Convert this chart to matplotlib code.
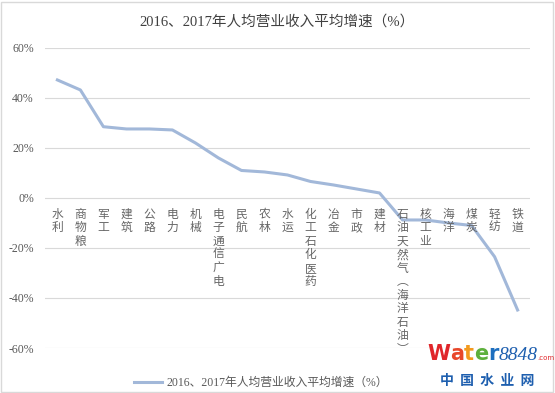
import matplotlib.pyplot as plt
from matplotlib.ticker import FuncFormatter
from matplotlib.patches import Rectangle

title = "2016、2017年人均营业收入平均增速（%）"
categories = ["水利", "商物粮", "军工", "建筑", "公路", "电力", "机械", "电子通信广电",
              "民航", "农林", "水运", "化工石化医药", "冶金", "市政", "建材",
              "石油天然气︵海洋石油︶", "核工业", "海洋", "煤炭", "轻纺", "铁道"]
values = [0.472, 0.432, 0.285, 0.276, 0.276, 0.272, 0.22, 0.16, 0.11, 0.104, 0.092,
          0.066, 0.052, 0.036, 0.02, -0.088, -0.088, -0.10, -0.11, -0.235, -0.448]
yticks = [-0.6, -0.4, -0.2, 0, 0.2, 0.4, 0.6]

serif_cjk = ['Liberation Serif', 'Noto Sans CJK SC', 'DejaVu Sans']
plt.rcParams['font.family'] = serif_cjk

fig = plt.figure(figsize=(5.55, 3.93), dpi=100)
fig.patches.append(Rectangle((0.002, 0.003), 0.995, 0.993, transform=fig.transFigure,
                             fill=False, edgecolor='#D9D9D9', linewidth=1))

n = len(categories)
ax = fig.add_axes([0.081, 0.1145, 0.874, 0.7635])
x = list(range(n))
line, = ax.plot(x, values, color='#A2B8D9', linewidth=2.2, solid_joinstyle='round')

ax.set_xlim(-0.54, n - 1 + 0.54)
ax.set_ylim(-0.6, 0.6)
ax.set_yticks(yticks)
ax.yaxis.set_major_formatter(FuncFormatter(lambda v, p: f"{v*100:.0f}%"))
ax.tick_params(axis='y', length=0, labelsize=8.5, labelcolor='#595959', pad=8)
ax.set_xticks([])
for s in ax.spines.values():
    s.set_visible(False)
ax.grid(axis='y', color='#D9D9D9', linewidth=0.8)
ax.set_axisbelow(True)

# vertical category labels under the 0% line
for i, c in enumerate(categories):
    ax.annotate("\n".join(c), xy=(i, 0), xytext=(0, -7), textcoords='offset points',
                ha='center', va='top', fontsize=8.5, color='#666666',
                linespacing=1.05, family=['Noto Sans CJK SC', 'DejaVu Sans'])

fig.text(0.5, 0.944, title, ha='center', va='center', fontsize=10.5, color='#404040')

# legend
fig.legend([line], [title], loc='center', bbox_to_anchor=(0.47, 0.025),
           frameon=False, fontsize=8.5, handlelength=2.4, handletextpad=0.3,
           labelcolor='#595959')

# watermark, pieces placed one after another
renderer = fig.canvas.get_renderer()
pieces = [("W", '#E0262A', 15, 'bold', 'normal', 'DejaVu Sans'),
          ("a", '#E8472A', 15, 'bold', 'normal', 'DejaVu Sans'),
          ("t", '#F39A1E', 15, 'bold', 'normal', 'DejaVu Sans'),
          ("e", '#5DB03C', 15, 'bold', 'normal', 'DejaVu Sans'),
          ("r", '#1E6FBF', 15, 'bold', 'normal', 'DejaVu Sans'),
          ("8848", '#1E5FAF', 14, 'normal', 'italic', 'Liberation Serif'),
          (".com", '#E0262A', 5, 'normal', 'normal', 'DejaVu Sans')]
xw = 427
for txt, col, fs, fw, st, fam in pieces:
    t = fig.text(xw / 555, 1 - 360 / 393, txt, fontsize=fs, fontweight=fw, style=st,
                 color=col, family=fam, ha='left', va='baseline')
    bb = t.get_window_extent(renderer)
    xw += bb.width
fig.text(487 / 555, 1 - 381 / 393, "中  国  水  业  网", fontsize=10, fontweight='bold',
         color='#1E5FAF', ha='center', va='center',
         family=['Noto Sans CJK SC', 'DejaVu Sans'])

fig.savefig("out.png", dpi=100)
